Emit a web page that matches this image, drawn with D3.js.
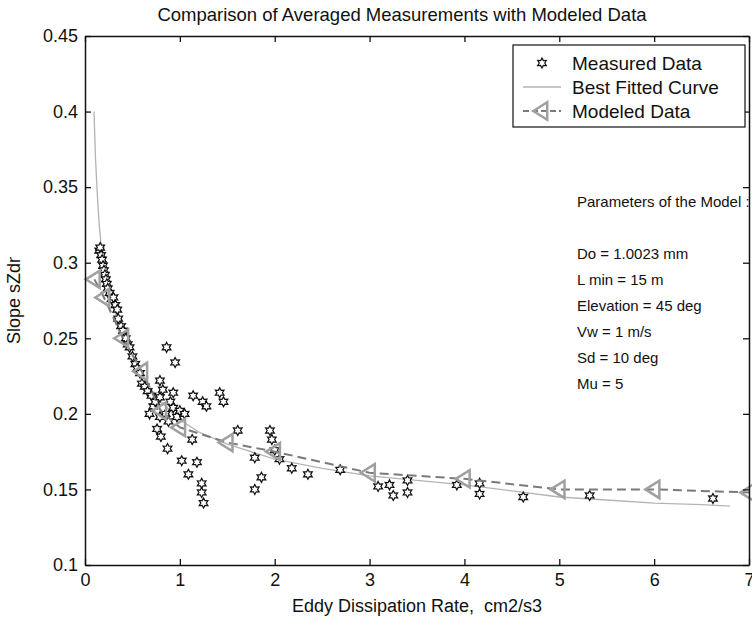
<!DOCTYPE html>
<html><head><meta charset="utf-8">
<script src="https://cdn.jsdelivr.net/npm/d3@7"></script>
<style>
html,body{margin:0;padding:0;background:#fff;}
svg{display:block;}
text{font-family:"Liberation Sans",Arial,sans-serif;fill:#111;white-space:pre;}
</style></head>
<body>
<script>
// ---- data ----
const xTickValues = [0,1,2,3,4,5,6,7];
const xTickLabels = ["0","1","2","3","4","5","6","7"];
const yTickValues = [0.1,0.15,0.2,0.25,0.3,0.35,0.4,0.45];
const yTickLabels = ["0.1","0.15","0.2","0.25","0.3","0.35","0.4","0.45"];

const measuredX = [0.15,0.16,0.17,0.18,0.19,0.2,0.21,0.22,0.23,0.24,0.26,0.28,0.3,0.32,0.34,0.35,0.38,0.4,0.43,0.45,0.47,0.5,0.53,0.55,0.58,0.6,0.63,0.66,0.68,0.7,0.72,0.74,0.76,0.79,0.79,0.79,0.8,0.82,0.85,0.86,0.87,0.88,0.9,0.93,0.93,0.95,0.97,1.0,1.02,1.05,1.09,1.13,1.14,1.18,1.23,1.23,1.25,1.24,1.28,1.42,1.46,1.61,1.79,1.86,1.79,1.95,1.97,2.0,2.05,2.18,2.35,2.69,3.09,3.21,3.25,3.4,3.4,3.92,4.16,4.16,4.62,5.32,6.62];
const measuredY = [0.308,0.31,0.305,0.302,0.298,0.295,0.292,0.289,0.286,0.283,0.28,0.276,0.277,0.272,0.269,0.263,0.258,0.255,0.25,0.246,0.244,0.238,0.233,0.23,0.227,0.22,0.218,0.215,0.2,0.212,0.205,0.208,0.19,0.198,0.211,0.222,0.185,0.216,0.2,0.244,0.177,0.195,0.208,0.214,0.204,0.234,0.198,0.202,0.169,0.2,0.16,0.183,0.212,0.168,0.154,0.148,0.141,0.208,0.205,0.214,0.208,0.189,0.171,0.158,0.15,0.189,0.183,0.176,0.17,0.164,0.16,0.163,0.152,0.153,0.146,0.156,0.148,0.153,0.154,0.147,0.145,0.146,0.144];

const fitX = [0.095,0.11,0.13,0.15,0.18,0.22,0.3,0.4,0.5,0.6,0.7,0.8,1.0,1.2,1.5,2,2.5,3,3.5,4,4.5,5,5.5,6,6.5,6.8];
const fitY = [0.40,0.37,0.345,0.325,0.305,0.29,0.27,0.252,0.238,0.226,0.216,0.208,0.196,0.188,0.18,0.17,0.164,0.159,0.156,0.153,0.149,0.145,0.143,0.141,0.14,0.139];

const modelX = [0.1,0.2,0.4,0.6,0.8,1,1.5,2,3,4,5,6,7];
const modelY = [0.289,0.277,0.25,0.228,0.202,0.191,0.181,0.175,0.161,0.157,0.150,0.150,0.148];

const titleText = "Comparison of Averaged Measurements with Modeled Data";
const xLabelText = "Eddy Dissipation Rate,  cm2/s3";
const yLabelText = "Slope sZdr";
const legendLabels = ["Measured Data","Best Fitted Curve","Modeled Data"];
const paramLines = ["Parameters of the Model :","","Do = 1.0023 mm","L min = 15 m","Elevation = 45 deg","Vw = 1 m/s","Sd = 10 deg","Mu = 5"];

// ---- layout ----
const W = 752, H = 618;
const M = {left:85, right:749, top:36, bottom:565};
const FS = 18;

const svg = d3.select("body").append("svg").attr("width",W).attr("height",H);
const x = d3.scaleLinear().domain([0,7]).range([M.left,M.right]);
const y = d3.scaleLinear().domain([0.1,0.45]).range([M.bottom,M.top]);

// hexagram symbol
const hexagram = {
  draw(ctx, size){
    const r = Math.sqrt(size)/1.6, ri = r*0.55;
    for(let i=0;i<12;i++){
      const a = -Math.PI/2 + i*Math.PI/6;
      const rr = i%2===0 ? r : ri;
      const px = rr*Math.cos(a), py = rr*Math.sin(a);
      if(i===0) ctx.moveTo(px,py); else ctx.lineTo(px,py);
    }
    ctx.closePath();
  }
};
const triLeft = {
  draw(ctx, size){
    const r = Math.sqrt(size)/1.5;
    ctx.moveTo(-r,0);
    ctx.lineTo(r*0.6,-r);
    ctx.lineTo(r*0.6,r);
    ctx.closePath();
  }
};
const starPath = d3.symbol().type(hexagram).size(64);
const triPath = d3.symbol().type(triLeft).size(170);

// fitted curve
const fitData = fitX.map((v,i)=>[v,fitY[i]]);
svg.append("path").datum(fitData)
  .attr("d", d3.line().x(d=>x(d[0])).y(d=>y(d[1])))
  .attr("fill","none").attr("stroke","#b4b4b4").attr("stroke-width",1.3);

// measured stars
const measData = measuredX.map((v,i)=>[v,measuredY[i]]);
svg.append("g").selectAll("path").data(measData).join("path")
  .attr("d", starPath)
  .attr("transform", d=>`translate(${x(d[0])},${y(d[1])})`)
  .attr("fill","#fff").attr("stroke","#111").attr("stroke-width",1.2);

// modeled dashed line + triangles
const modData = modelX.map((v,i)=>[v,modelY[i]]);
svg.append("path").datum(modData)
  .attr("d", d3.line().x(d=>x(d[0])).y(d=>y(d[1])))
  .attr("fill","none").attr("stroke","#7a7a7a").attr("stroke-width",2)
  .attr("stroke-dasharray","9,5");
svg.append("g").selectAll("path").data(modData).join("path")
  .attr("d", triPath)
  .attr("transform", d=>`translate(${x(d[0])},${y(d[1])})`)
  .attr("fill","none").attr("stroke","#a0a0a0").attr("stroke-width",2.5);

// axes (box with inward ticks)
const tickLen = 6;
const axB = d3.axisBottom(x).tickValues(xTickValues).tickFormat((d,i)=>xTickLabels[i]).tickSizeInner(-tickLen).tickSizeOuter(0).tickPadding(8);
const axT = d3.axisTop(x).tickValues(xTickValues).tickFormat("").tickSizeInner(-tickLen).tickSizeOuter(0);
const axL = d3.axisLeft(y).tickValues(yTickValues).tickFormat((d,i)=>yTickLabels[i]).tickSizeInner(-tickLen).tickSizeOuter(0).tickPadding(7);
const axR = d3.axisRight(y).tickValues(yTickValues).tickFormat("").tickSizeInner(-tickLen).tickSizeOuter(0);

function style(g){
  g.select(".domain").attr("stroke","#111").attr("stroke-width",1.5);
  g.selectAll(".tick line").attr("stroke","#111").attr("stroke-width",1.3);
  g.selectAll(".tick text").attr("font-size",FS).attr("font-family","Liberation Sans, Arial, sans-serif").attr("fill","#111");
}
svg.append("g").attr("transform",`translate(0,${M.bottom})`).call(axB).call(style);
svg.append("g").attr("transform",`translate(0,${M.top})`).call(axT).call(style);
svg.append("g").attr("transform",`translate(${M.left},0)`).call(axL).call(style);
svg.append("g").attr("transform",`translate(${M.right},0)`).call(axR).call(style);

// titles
svg.append("text").attr("x",402).attr("y",21).attr("text-anchor","middle").attr("font-size",18.5).text(titleText);
svg.append("text").attr("x",(M.left+M.right)/2).attr("y",612).attr("text-anchor","middle").attr("font-size",FS).text(xLabelText);
svg.append("text").attr("transform",`translate(20,${(M.top+M.bottom)/2}) rotate(-90)`).attr("text-anchor","middle").attr("font-size",FS).text(yLabelText);

// legend
const lg = svg.append("g");
lg.append("rect").attr("x",513).attr("y",45).attr("width",232).attr("height",82)
  .attr("fill","#fff").attr("stroke","#111").attr("stroke-width",1.2);
const ly = [63,87,111];
legendLabels.forEach((t,i)=>{
  lg.append("text").attr("x",572).attr("y",ly[i]).attr("dy","0.35em").attr("font-size",19).text(t);
});
lg.append("path").attr("d",starPath).attr("transform",`translate(542,${ly[0]})`)
  .attr("fill","#fff").attr("stroke","#111").attr("stroke-width",1.2);
lg.append("line").attr("x1",523).attr("x2",561).attr("y1",ly[1]).attr("y2",ly[1])
  .attr("stroke","#b4b4b4").attr("stroke-width",1.3);
lg.append("line").attr("x1",523).attr("x2",561).attr("y1",ly[2]).attr("y2",ly[2])
  .attr("stroke","#7a7a7a").attr("stroke-width",2).attr("stroke-dasharray","6,3");
lg.append("path").attr("d",triPath).attr("transform",`translate(542,${ly[2]})`)
  .attr("fill","none").attr("stroke","#a0a0a0").attr("stroke-width",2.5);

// parameter text
paramLines.forEach((t,i)=>{
  if(t) svg.append("text").attr("x",577).attr("y",202+i*26).attr("dy","0.35em").attr("font-size",15).text(t);
});
</script>
</body></html>
